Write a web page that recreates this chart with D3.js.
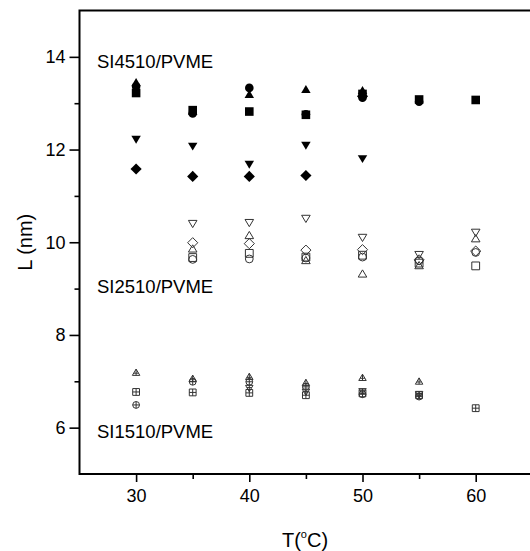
<!DOCTYPE html>
<html>
<head>
<meta charset="utf-8">
<script src="https://cdn.jsdelivr.net/npm/d3@7/dist/d3.min.js"></script>
<style>
  html, body { margin: 0; padding: 0; background: #fff; }
  svg { display: block; font-family: "Liberation Sans", Arial, sans-serif; }
</style>
</head>
<body>
<svg id="chart" width="530" height="551"></svg>
<script>
// Temperatures (°C)
const temps = [30, 35, 40, 45, 50, 55, 60];

// SI4510/PVME — filled symbols, L (nm)
const si4510Square   = [13.22, 12.85, 12.82, 12.75, 13.20, 13.08, 13.07];
const si4510Circle   = [13.36, 12.78, 13.33, 12.76, 13.12, 13.03, null];
const si4510Up       = [13.45, 12.83, 13.19, 13.30, 13.28, null, null];
const si4510Down     = [12.22, 12.07, 11.68, 12.09, 11.80, null, null];
const si4510Diamond  = [11.58, 11.42, 11.42, 11.44, 13.15, null, null];

// SI2510/PVME — open symbols
const si2510Square   = [null, 9.67, 9.76, 9.68, 9.72, 9.55, 9.49];
const si2510Circle   = [null, 9.63, 9.64, 9.66, 9.68, 9.60, 9.78];
const si2510Up       = [null, 9.86, 10.15, 9.61, 9.32, 9.50, 10.08];
const si2510Down     = [null, 10.40, 10.42, 10.51, 10.10, 9.73, 10.21];
const si2510Diamond  = [null, 9.99, 9.97, 9.83, 9.84, 9.62, 9.81];

// SI1510/PVME — open symbols with a cross
const si1510Square   = [6.77, 6.76, 6.75, 6.70, 6.74, 6.70, 6.42];
const si1510Circle   = [6.49, 6.99, 6.99, 6.88, 6.72, 6.67, null];
const si1510Up       = [7.19, 7.06, 7.10, 6.97, 7.08, 7.00, null];
const si1510Down     = [null, null, 6.85, 6.77, 6.78, 6.72, null];

const xTicks = [30, 40, 50, 60];
const xMinorTicks = [35, 45, 55];
const yTicks = [6, 8, 10, 12, 14];
const yMinorTicks = [7, 9, 11, 13];

const groupLabels = [
  { text: "SI4510/PVME", y: 13.87 },
  { text: "SI2510/PVME", y: 9.02 },
  { text: "SI1510/PVME", y: 5.89 }
];

const series = [
  { values: si4510Square,  shape: "square",  style: "filled" },
  { values: si4510Circle,  shape: "circle",  style: "filled" },
  { values: si4510Up,      shape: "up",      style: "filled" },
  { values: si4510Down,    shape: "down",    style: "filled" },
  { values: si4510Diamond, shape: "diamond", style: "filled" },
  { values: si2510Square,  shape: "square",  style: "open" },
  { values: si2510Circle,  shape: "circle",  style: "open" },
  { values: si2510Up,      shape: "up",      style: "open" },
  { values: si2510Down,    shape: "down",    style: "open" },
  { values: si2510Diamond, shape: "diamond", style: "open" },
  { values: si1510Square,  shape: "square",  style: "cross" },
  { values: si1510Circle,  shape: "circle",  style: "cross" },
  { values: si1510Up,      shape: "up",      style: "cross" },
  { values: si1510Down,    shape: "down",    style: "cross" }
];

const svg = d3.select("#chart");
const x = d3.scaleLinear().domain([25, 65]).range([79.5, 532.3]);
const y = d3.scaleLinear().domain([5, 15]).range([474, 10.5]);

// Symbol outlines centred on the origin; r is a half-size in pixels
function shapePath(shape, r) {
  const p = d3.path();
  if (shape === "square") {
    p.rect(-r, -r, 2 * r, 2 * r);
  } else if (shape === "circle") {
    p.arc(0, 0, r, 0, 2 * Math.PI);
    p.closePath();
  } else if (shape === "up") {
    p.moveTo(0, -r * 1.0); p.lineTo(r * 1.1, r * 0.85); p.lineTo(-r * 1.1, r * 0.85); p.closePath();
  } else if (shape === "down") {
    p.moveTo(0, r * 1.0); p.lineTo(r * 1.1, -r * 0.85); p.lineTo(-r * 1.1, -r * 0.85); p.closePath();
  } else if (shape === "diamond") {
    const d = r * 1.3;
    p.moveTo(0, -d); p.lineTo(d, 0); p.lineTo(0, d); p.lineTo(-d, 0); p.closePath();
  }
  return p.toString();
}

// Plus-sign drawn inside the crossed symbols
function crossPath(shape, r) {
  const top = shape === "down" ? -r * 0.85 : -r;
  const bot = shape === "up" ? r * 0.85 : r;
  const midY = shape === "up" ? r * 0.2 : (shape === "down" ? -r * 0.2 : 0);
  const half = shape === "square" || shape === "circle" ? r : r * 0.7;
  return `M0,${top}V${bot}M${-half},${midY}H${half}`;
}

// Axes
const axisG = svg.append("g");
const xAxis = d3.axisBottom(x).tickValues(xTicks).tickSize(8).tickPadding(7).tickFormat(d3.format("d"));
const xMinor = d3.axisBottom(x).tickValues(xMinorTicks).tickSize(5).tickFormat("");
const yAxis = d3.axisLeft(y).tickValues(yTicks).tickSize(10).tickPadding(4).tickFormat(d3.format("d"));
const yMinor = d3.axisLeft(y).tickValues(yMinorTicks).tickSize(5).tickFormat("");

function styleAxis(g) {
  g.select(".domain").remove();
  g.selectAll(".tick line").attr("stroke", "#000").attr("stroke-width", 1.6);
  g.selectAll(".tick text").attr("fill", "#000").attr("font-size", 18)
    .attr("font-family", "'Liberation Sans', Arial, sans-serif");
}

axisG.append("g").attr("transform", `translate(0,${y(5)})`).call(xAxis).call(styleAxis);
axisG.append("g").attr("transform", `translate(0,${y(5)})`).call(xMinor).call(styleAxis);
axisG.append("g").attr("transform", `translate(${x(25)},0)`).call(yAxis).call(styleAxis);
axisG.append("g").attr("transform", `translate(${x(25)},0)`).call(yMinor).call(styleAxis);

// Frame
svg.append("rect")
  .attr("x", x(25)).attr("y", y(15))
  .attr("width", x(65) - x(25)).attr("height", y(5) - y(15))
  .attr("fill", "none").attr("stroke", "#000").attr("stroke-width", 2);

// Points
const pts = svg.append("g");
series.forEach(s => {
  const data = temps.map((t, i) => ({ t, v: s.values[i] })).filter(d => d.v != null);
  const g = pts.append("g");
  const items = g.selectAll("g").data(data).join("g")
    .attr("transform", d => `translate(${x(d.t)},${y(d.v)})`);
  if (s.style === "filled") {
    items.append("path").attr("d", shapePath(s.shape, 4.3)).attr("fill", "#000");
  } else if (s.style === "open") {
    items.append("path").attr("d", shapePath(s.shape, 3.9))
      .attr("fill", "none").attr("stroke", "#333").attr("stroke-width", 1);
  } else {
    items.append("path").attr("d", shapePath(s.shape, 3.4))
      .attr("fill", "none").attr("stroke", "#333").attr("stroke-width", 1);
    items.append("path").attr("d", crossPath(s.shape, 3.4))
      .attr("fill", "none").attr("stroke", "#333").attr("stroke-width", 1);
  }
});

// Group labels
svg.append("g").selectAll("text").data(groupLabels).join("text")
  .attr("x", 97).attr("y", d => y(d.y))
  .attr("dominant-baseline", "middle")
  .attr("font-size", 18.5).attr("fill", "#000")
  .text(d => d.text);

// Axis titles
svg.append("text")
  .attr("transform", `translate(32,${y(10)}) rotate(-90)`)
  .attr("text-anchor", "middle")
  .attr("font-size", 20).attr("fill", "#000")
  .text("L (nm)");

const xt = svg.append("text")
  .attr("x", 305).attr("y", 547)
  .attr("text-anchor", "middle")
  .attr("font-size", 20).attr("fill", "#000");
xt.append("tspan").text("T(");
xt.append("tspan").attr("font-size", 11).attr("dy", -9).text("o");
xt.append("tspan").attr("dy", 9).text("C)");
</script>
</body>
</html>
